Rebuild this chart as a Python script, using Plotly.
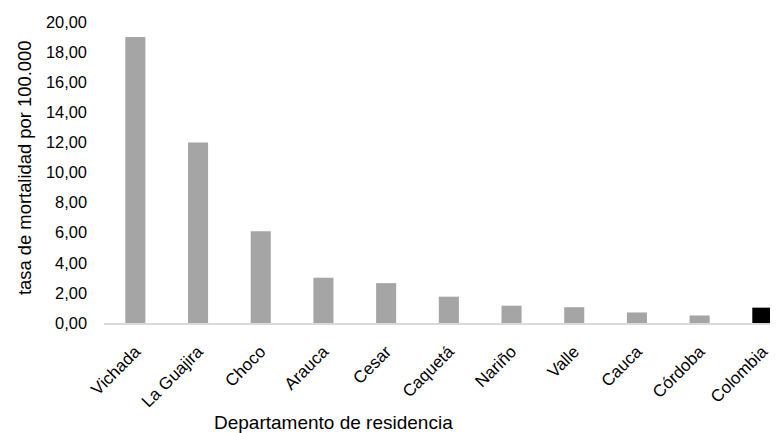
import plotly.graph_objects as go

departamentos = ["Vichada", "La Guajira", "Choco", "Arauca", "Cesar", "Caquetá",
                 "Nariño", "Valle", "Cauca", "Córdoba", "Colombia"]
tasas = [19.0, 12.0, 6.1, 3.0, 2.65, 1.75, 1.15, 1.05, 0.7, 0.5, 1.02]
colores = ["#A5A5A5"] * 10 + ["#000000"]
y_ticks = [0, 2, 4, 6, 8, 10, 12, 14, 16, 18, 20]
y_tick_labels = ["0,00", "2,00", "4,00", "6,00", "8,00", "10,00", "12,00",
                 "14,00", "16,00", "18,00", "20,00"]
x_title = "Departamento de residencia"
y_title = "tasa de mortalidad por 100.000"

FONT = "Liberation Sans, Arial, sans-serif"

fig = go.Figure(go.Bar(
    x=departamentos, y=tasas, marker=dict(color=colores, line=dict(width=0)),
    width=0.32,
))

fig.update_layout(
    width=770, height=425,
    margin=dict(l=96, r=0, t=14, b=110),
    paper_bgcolor="white", plot_bgcolor="white",
    font=dict(family=FONT, size=17, color="#000000"),
    showlegend=False,
    xaxis=dict(
        range=[-0.5, 10.25], tickangle=-45, showgrid=False,
        showline=True, linecolor="#D9D9D9", linewidth=2,
        ticks="", tickfont=dict(size=17), ticklabelstandoff=10,
        automargin=False,
    ),
    yaxis=dict(
        range=[0, 20], tickvals=y_ticks, ticktext=y_tick_labels,
        showgrid=False, zeroline=False, showline=False, ticks="",
        tickfont=dict(size=16.4), ticklabelstandoff=16, automargin=False,
    ),
    annotations=[
        dict(text=x_title, xref="paper", yref="paper", x=0.341, y=-0.332,
             xanchor="center", yanchor="middle", showarrow=False,
             font=dict(size=19)),
        dict(text=y_title, xref="paper", yref="paper", x=-0.1187, y=0.518,
             xanchor="center", yanchor="middle", showarrow=False, textangle=-90,
             font=dict(size=18.4)),
    ],
)

fig.write_html("out.html")
